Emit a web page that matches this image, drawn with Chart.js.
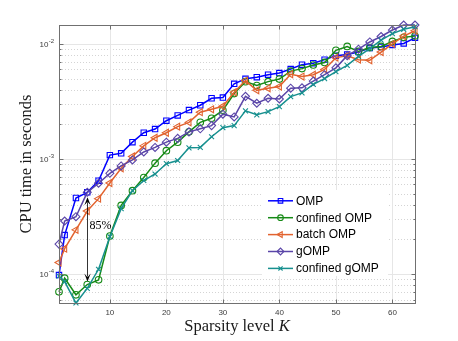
<!DOCTYPE html>
<html>
<head>
<meta charset="utf-8">
<script src="https://cdn.jsdelivr.net/npm/chart.js@4.4.1/dist/chart.umd.min.js"></script>
<style>
  html, body { margin: 0; padding: 0; background: #fff; }
</style>
</head>
<body>
<canvas id="chart" width="458" height="341"></canvas>
<script>
// sparsity levels K (markers at 1, 2 and every even K)
const kValues = [1, 2, 4, 6, 8, 10, 12, 14, 16, 18, 20, 22, 24, 26, 28, 30, 32,
                 34, 36, 38, 40, 42, 44, 46, 48, 50, 52, 54, 56, 58, 60, 62, 64];

// CPU time in seconds
const ompTime = [9.8e-5, 2.18e-4, 4.58e-4, 5.13e-4, 6.47e-4, 1.08e-3, 1.12e-3, 1.40e-3, 1.69e-3, 1.82e-3, 2.15e-3,
                 2.39e-3, 2.66e-3, 2.93e-3, 3.37e-3, 3.42e-3, 4.5e-3, 4.97e-3, 5.14e-3, 5.4e-3, 5.58e-3,
                 6.05e-3, 6.6e-3, 6.8e-3, 7.3e-3, 7.9e-3, 8.1e-3, 8.5e-3, 9.2e-3, 9.4e-3, 9.8e-3, 1.01e-2, 1.13e-2];
const confinedOmpTime = [7.0e-5, 9.2e-5, 6.6e-5, 8.1e-5, 8.9e-5, 2.14e-4, 3.95e-4, 5.3e-4, 6.9e-4, 9.2e-4, 1.18e-3,
                 1.40e-3, 1.72e-3, 2.08e-3, 2.26e-3, 2.65e-3, 3.7e-3, 4.7e-3, 4.35e-3, 4.7e-3, 4.95e-3,
                 5.8e-3, 6.1e-3, 6.56e-3, 6.9e-3, 8.8e-3, 9.5e-3, 8.6e-3, 9.3e-3, 9.5e-3, 1.05e-2, 1.14e-2, 1.17e-2];
const batchOmpTime = [1.26e-4, 1.66e-4, 2.42e-4, 3.53e-4, 4.52e-4, 6.18e-4, 8.3e-4, 1.05e-3, 1.30e-3, 1.53e-3, 1.69e-3,
                 1.91e-3, 2.08e-3, 2.55e-3, 2.7e-3, 2.87e-3, 3.8e-3, 4.8e-3, 3.95e-3, 4.12e-3, 4.26e-3,
                 5.45e-3, 5.2e-3, 5.4e-3, 6.0e-3, 7.6e-3, 7.9e-3, 7.3e-3, 7.2e-3, 8.5e-3, 1.0e-2, 1.17e-2, 1.30e-2];
const gompTime = [1.82e-4, 2.89e-4, 3.15e-4, 5.13e-4, 6.15e-4, 7.5e-4, 8.7e-4, 9.8e-4, 1.15e-3, 1.26e-3, 1.40e-3,
                 1.51e-3, 1.72e-3, 1.83e-3, 1.95e-3, 2.45e-3, 2.32e-3, 3.5e-3, 3.05e-3, 3.37e-3, 3.32e-3,
                 4.12e-3, 4.15e-3, 4.75e-3, 5.4e-3, 6.2e-3, 7.9e-3, 9.0e-3, 1.04e-2, 1.16e-2, 1.32e-2, 1.46e-2, 1.46e-2];
const confinedGompTime = [9.6e-5, 8.6e-5, 5.6e-5, 7.5e-5, 1.1e-4, 2.11e-4, 3.7e-4, 5.3e-4, 6.5e-4, 7.4e-4, 9.1e-4,
                 9.7e-4, 1.25e-3, 1.26e-3, 1.56e-3, 1.87e-3, 1.95e-3, 2.62e-3, 2.42e-3, 2.58e-3, 2.85e-3,
                 3.48e-3, 3.75e-3, 4.45e-3, 5.0e-3, 5.75e-3, 6.5e-3, 7.8e-3, 9.1e-3, 1.08e-2, 1.23e-2, 1.34e-2, 1.41e-2];

const xTicks = [10, 20, 30, 40, 50, 60];
const yDecades = [1e-4, 1e-3, 1e-2];
const yDecadeLabels = ['-4', '-3', '-2'];

// the 85% arrow at K = 6
const arrowK = 6;
const arrowTop = 4.65e-4;
const arrowBottom = 8.6e-5;
const arrowLabel = '85%';
const arrowLabelY = 2.6e-4;

const sans = 'Liberation Sans, Arial, sans-serif';
const serif = 'Liberation Serif, Times New Roman, serif';

let yMinor = [];
for (const d of [1e-5, 1e-4, 1e-3]) {
    for (let m = 2; m <= 9; m++) {
        yMinor.push(m * d);
    }
}

const series = (arr) => kValues.map((k, i) => ({x: k, y: arr[i]}));

function makeSet(label, arr, colour, style, radius, rotation, order) {
    return {
        label: label,
        data: series(arr),
        borderColor: colour,
        backgroundColor: colour,
        borderWidth: 1.5,
        pointStyle: style,
        pointRadius: radius,
        pointRotation: rotation,
        pointBorderColor: colour,
        pointBackgroundColor: 'rgba(0,0,0,0)',
        pointBorderWidth: 1.1,
        tension: 0,
        clip: false,
        order: order
    };
}

const datasets = [
    makeSet('OMP', ompTime, '#0000ff', 'rect', 3.8, 0, 5),
    makeSet('confined OMP', confinedOmpTime, '#168a16', 'circle', 3.3, 0, 4),
    makeSet('batch OMP', batchOmpTime, '#e2632f', 'triangle', 4, -90, 3),
    makeSet('gOMP', gompTime, '#5a45a8', 'rectRot', 4, 0, 2),
    makeSet('confined gOMP', confinedGompTime, '#17908f', 'crossRot', 3.5, 0, 1)
];

const crisp = v => Math.round(v) + 0.5;

const matlabLook = {
    id: 'matlabLook',
    beforeDatasetsDraw(chart) {
        const {ctx, chartArea: a, scales: {x, y}} = chart;
        ctx.save();
        ctx.lineWidth = 1;
        // dotted minor grid
        ctx.strokeStyle = '#d4d4d4';
        ctx.setLineDash([1, 2]);
        for (const v of yMinor) {
            const py = y.getPixelForValue(v);
            if (py < a.top || py > a.bottom) continue;
            ctx.beginPath();
            ctx.moveTo(a.left, crisp(py));
            ctx.lineTo(a.right, crisp(py));
            ctx.stroke();
        }
        // solid major grid
        ctx.setLineDash([]);
        ctx.strokeStyle = '#e6e6e6';
        for (const v of yDecades) {
            const py = crisp(y.getPixelForValue(v));
            ctx.beginPath();
            ctx.moveTo(a.left, py);
            ctx.lineTo(a.right, py);
            ctx.stroke();
        }
        for (const v of xTicks) {
            const px = crisp(x.getPixelForValue(v));
            ctx.beginPath();
            ctx.moveTo(px, a.top);
            ctx.lineTo(px, a.bottom);
            ctx.stroke();
        }
        ctx.restore();
    },
    afterDatasetsDraw(chart) {
        const {ctx, chartArea: a, scales: {x, y}} = chart;
        ctx.save();

        // axes box and inward ticks
        const l = crisp(a.left), r = crisp(a.right), t = crisp(a.top), b = crisp(a.bottom);
        ctx.strokeStyle = '#707070';
        ctx.lineWidth = 1;
        ctx.strokeRect(l, t, r - l, b - t);
        ctx.beginPath();
        for (const v of xTicks) {
            const px = crisp(x.getPixelForValue(v));
            ctx.moveTo(px, b); ctx.lineTo(px, b - 4);
            ctx.moveTo(px, t); ctx.lineTo(px, t + 4);
        }
        for (const v of yDecades) {
            const py = crisp(y.getPixelForValue(v));
            ctx.moveTo(l, py); ctx.lineTo(l + 4, py);
            ctx.moveTo(r, py); ctx.lineTo(r - 4, py);
        }
        for (const v of yMinor) {
            const py = y.getPixelForValue(v);
            if (py < a.top || py > a.bottom) continue;
            ctx.moveTo(l, crisp(py)); ctx.lineTo(l + 2, crisp(py));
            ctx.moveTo(r, crisp(py)); ctx.lineTo(r - 2, crisp(py));
        }
        ctx.stroke();

        // 85% double arrow
        const ax = crisp(x.getPixelForValue(arrowK));
        const yt = y.getPixelForValue(arrowTop);
        const yb = y.getPixelForValue(arrowBottom);
        ctx.strokeStyle = '#000';
        ctx.fillStyle = '#000';
        ctx.lineWidth = 0.8;
        ctx.beginPath();
        ctx.moveTo(ax, yt + 5);
        ctx.lineTo(ax, yb - 5);
        ctx.stroke();
        const head = (tip, dir) => {
            const len = 8, w = 3.2;
            ctx.beginPath();
            ctx.moveTo(ax, tip);
            ctx.lineTo(ax - w, tip - dir * len);
            ctx.lineTo(ax, tip - dir * len * 0.55);
            ctx.lineTo(ax + w, tip - dir * len);
            ctx.closePath();
            ctx.fill();
        };
        head(yt, -1);
        head(yb, 1);
        ctx.font = '12px ' + serif;
        ctx.textAlign = 'left';
        ctx.textBaseline = 'middle';
        ctx.fillText(arrowLabel, ax + 2, y.getPixelForValue(arrowLabelY));

        // legend
        const lx = 262, ly = 190, lw = 126, lh = 86;
        ctx.fillStyle = '#fff';
        ctx.fillRect(lx, ly, lw, lh);
        ctx.font = '12px ' + sans;
        chart.data.datasets.forEach((ds, i) => {
            const rowY = 200.8 + i * 16.9;
            ctx.strokeStyle = ds.borderColor;
            ctx.lineWidth = ds.borderWidth;
            ctx.beginPath();
            ctx.moveTo(268, rowY);
            ctx.lineTo(293, rowY);
            ctx.stroke();
            ctx.lineWidth = ds.pointBorderWidth;
            ctx.fillStyle = 'rgba(0,0,0,0)';
            Chart.helpers.drawPoint(ctx, {
                pointStyle: ds.pointStyle,
                rotation: ds.pointRotation,
                radius: ds.pointRadius * 0.85,
                borderWidth: ds.pointBorderWidth
            }, 280.5, rowY);
            ctx.fillStyle = '#000';
            ctx.fillText(ds.label, 296, rowY + 0.5);
        });
        ctx.restore();
    },
    afterDraw(chart) {
        const {ctx, chartArea: a, scales: {y}} = chart;
        ctx.save();
        // y tick labels 10^n
        ctx.fillStyle = '#3c3c3c';
        ctx.textBaseline = 'middle';
        yDecades.forEach((v, i) => {
            const py = y.getPixelForValue(v);
            ctx.font = '6px ' + sans;
            const supW = ctx.measureText(yDecadeLabels[i]).width;
            const right = a.left - 5;
            ctx.textAlign = 'left';
            ctx.fillText(yDecadeLabels[i], right - supW, py - 2.5);
            ctx.font = '8px ' + sans;
            ctx.textAlign = 'right';
            ctx.fillText('10', right - supW - 0.3, py + 1);
        });

        // axis titles
        ctx.fillStyle = '#1a1a1a';
        ctx.font = '16.5px ' + serif;
        ctx.textAlign = 'center';
        ctx.textBaseline = 'middle';
        ctx.save();
        ctx.translate(27, (a.top + a.bottom) / 2);
        ctx.rotate(-Math.PI / 2);
        ctx.fillText('CPU time in seconds', 0, 0);
        ctx.restore();

        const plain = 'Sparsity level ';
        ctx.font = '16.5px ' + serif;
        const w1 = ctx.measureText(plain).width;
        ctx.font = 'italic 16.5px ' + serif;
        const w2 = ctx.measureText('K').width;
        const start = (a.left + a.right) / 2 - (w1 + w2) / 2;
        ctx.textAlign = 'left';
        ctx.font = '16.5px ' + serif;
        ctx.fillText(plain, start, 326.5);
        ctx.font = 'italic 16.5px ' + serif;
        ctx.fillText('K', start + w1, 326.5);
        ctx.restore();
    }
};

new Chart(document.getElementById('chart'), {
    type: 'line',
    data: {datasets: datasets},
    options: {
        responsive: false,
        animation: false,
        layout: {padding: {left: 0, right: 43, top: 25, bottom: 0}},
        plugins: {
            legend: {display: false},
            tooltip: {enabled: false}
        },
        scales: {
            x: {
                type: 'linear',
                min: 1,
                max: 64,
                afterBuildTicks: (scale) => {
                    scale.ticks = xTicks.map(v => ({value: v}));
                },
                afterFit: (scale) => {
                    scale.height = 38;
                },
                grid: {display: false, drawTicks: false},
                border: {display: false},
                ticks: {
                    autoSkip: false,
                    maxRotation: 0,
                    padding: 5,
                    color: '#3c3c3c',
                    font: {family: sans, size: 8}
                }
            },
            y: {
                type: 'logarithmic',
                min: 5.6e-5,
                max: 1.46e-2,
                afterFit: (scale) => {
                    scale.width = 59;
                },
                grid: {display: false},
                border: {display: false},
                ticks: {display: false}
            }
        }
    },
    plugins: [matlabLook]
});
</script>
</body>
</html>
